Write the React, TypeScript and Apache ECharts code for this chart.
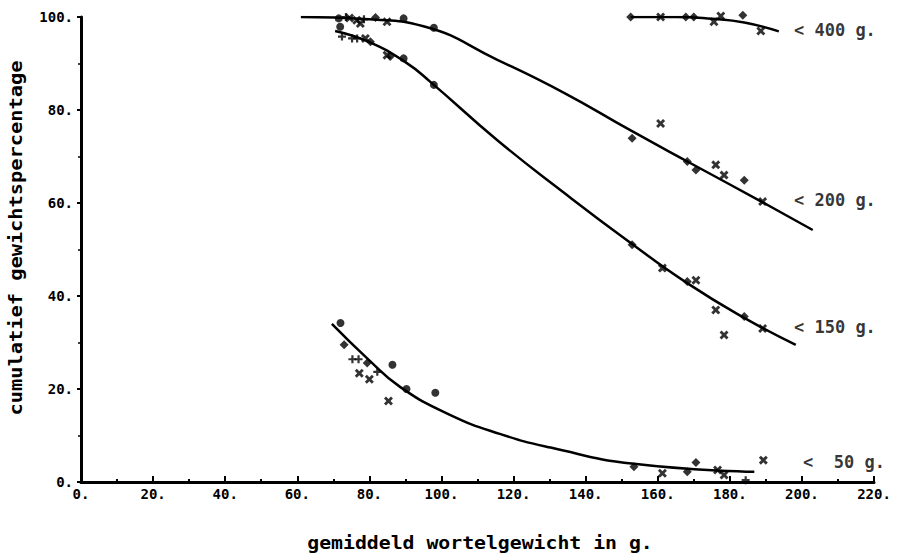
import React, { useEffect, useRef } from "react";
import * as echarts from "echarts";

// Fitted curves (x = gemiddeld wortelgewicht g, y = cumulatief %)
const curve400: number[][] = [[152.5, 100], [165, 100], [175, 99.6], [184, 98.8], [193.6, 96.9]];
const curve200: number[][] = [
  [61, 100], [80, 99.5], [95, 98], [115.5, 90.8], [134, 83.7], [152.5, 75.6], [169, 68.6],
  [189, 60.2], [203, 54.2],
];
const curve150: number[][] = [
  [70.5, 97], [80, 94.6], [90, 90.3], [97, 86], [115.5, 73.5], [134, 62.2], [152.5, 51.4],
  [168.5, 42.6], [184, 35.3], [198.3, 29.5],
];
const curve50: number[][] = [
  [69.6, 34], [79.4, 26.6], [88.6, 20.4], [102.5, 14.4], [116.4, 10.3], [130.3, 7.4],
  [153.4, 3.9], [186.8, 2.2],
];

// Observed points by marker shape
const circlePoints: number[][] = [
  [71.5, 99.7], [71.9, 97.9], [89.5, 99.7], [97.9, 97.7],
  [89.5, 91.1], [97.9, 85.4],
  [72, 34.2], [86.4, 25.2], [90.3, 20], [98.3, 19.2],
];
const diamondPoints: number[][] = [
  [152.5, 100], [167.8, 100], [170, 100], [183.6, 100.4],
  [81.7, 99.9], [152.9, 73.9], [168.2, 68.9], [170.6, 67.1], [184, 64.9],
  [80.3, 94.7], [85.8, 91.5], [152.9, 51], [168.2, 43.1], [184, 35.6],
  [73, 29.5], [79.4, 25.6], [153.4, 3.3], [168.2, 2.2], [170.6, 4.2],
];
const plusPoints: number[][] = [
  [73.5, 100], [78.5, 99.5],
  [72.4, 95.8], [75.2, 95.4], [76.6, 95.4],
  [75.3, 26.4], [77, 26.4], [82.2, 23.7], [184.4, 0.4],
];
const crossPoints: number[][] = [
  [160.8, 100], [175.6, 99], [177.5, 100.2], [188.6, 97],
  [74.5, 99.8], [76.5, 99.3], [77.5, 98.6], [84.9, 99], [160.8, 77.1], [176.1, 68.2], [178.4, 66], [189.1, 60.3],
  [78.9, 95.4], [84.9, 91.8], [161.3, 46], [170.6, 43.4], [176.1, 37], [178.4, 31.6], [189.1, 33],
  [77.2, 23.4], [80, 22.1], [85.3, 17.4], [161.3, 1.9], [176.6, 2.6], [178.4, 1.5], [189.3, 4.7],
];

// Curve labels [x, y, text]
const curveLabels: (number | string)[][] = [
  [197.8, 97.2, "< 400 g."],
  [197.8, 60.6, "< 200 g."],
  [197.8, 33.3, "< 150 g."],
  [200.3, 4.3, "<  50 g."],
];

const xTitle = "gemiddeld wortelgewicht in g.";
const yTitle = "cumulatief gewichtspercentage";

const FONT = '"DejaVu Sans Mono", "Liberation Mono", monospace';
const PLUS = "path://M2.9,0H5.1V2.9H8V5.1H5.1V8H2.9V5.1H0V2.9H2.9Z";
const CROSS = "path://M0,1.8L1.8,0L4,2.2L6.2,0L8,1.8L5.8,4L8,6.2L6.2,8L4,5.8L1.8,8L0,6.2L2.2,4Z";

export default function App() {
  const ref = useRef<HTMLDivElement>(null);
  useEffect(() => {
    if (!ref.current) return;
    const chart = echarts.init(ref.current, undefined, { renderer: "svg" });
    const lineSeries = (data: number[][]) => ({
      type: "line",
      data,
      smooth: 0.5,
      showSymbol: false,
      symbol: "none",
      lineStyle: { color: "#000", width: 2.5 },
      z: 2,
    });
    const scatter = (data: number[][], symbol: string, size: number) => ({
      type: "scatter",
      data,
      symbol,
      symbolSize: size,
      clip: false,
      itemStyle: { color: "#000" },
      z: 3,
    });
    chart.setOption({
      animation: false,
      backgroundColor: "#fff",
      grid: { left: 81, right: 24, top: 17, bottom: 72, containLabel: false },
      xAxis: {
        type: "value",
        min: 0,
        max: 220,
        interval: 20,
        axisLine: { show: true, lineStyle: { color: "#000", width: 3 } },
        axisTick: { show: true, inside: true, length: 6, lineStyle: { color: "#000", width: 2 } },
        minorTick: { show: true, splitNumber: 2, length: 3, lineStyle: { color: "#000", width: 2 } },
        splitLine: { show: false },
        axisLabel: {
          formatter: (v: number) => v + ".",
          color: "#000",
          fontFamily: FONT,
          fontWeight: "bold",
          fontSize: 14,
          margin: 5,
        },
      },
      yAxis: {
        type: "value",
        min: 0,
        max: 100,
        interval: 20,
        axisLine: { show: true, lineStyle: { color: "#000", width: 3 } },
        axisTick: { show: true, inside: false, length: 4, lineStyle: { color: "#000", width: 2 } },
        minorTick: { show: true, splitNumber: 2, length: 3, lineStyle: { color: "#000", width: 1.5 } },
        splitLine: { show: false },
        axisLabel: {
          formatter: (v: number) => v + ".",
          color: "#000",
          fontFamily: FONT,
          fontWeight: "bold",
          fontSize: 14,
          margin: 8,
          verticalAlign: "middle",
        },
      },
      graphic: [
        {
          type: "text",
          x: 480,
          y: 542,
          scaleX: 1.1,
          style: {
            x: 0,
            y: 0,
            text: xTitle,
            font: `bold 18px ${FONT}`,
            fill: "#000",
            textAlign: "center",
            textVerticalAlign: "middle",
          },
        },
        {
          type: "text",
          x: 16,
          y: 238,
          rotation: Math.PI / 2,
          scaleX: 1.13,
          style: {
            x: 0,
            y: 0,
            text: yTitle,
            font: `bold 18px ${FONT}`,
            fill: "#000",
            textAlign: "center",
            textVerticalAlign: "middle",
          },
        },
      ],
      series: [
        lineSeries(curve400),
        lineSeries(curve200),
        lineSeries(curve150),
        lineSeries(curve50),
        scatter(circlePoints, "circle", 8),
        scatter(diamondPoints, "diamond", 9),
        scatter(plusPoints, PLUS, 8),
        scatter(crossPoints, CROSS, 9),
        {
          type: "scatter",
          data: curveLabels,
          symbolSize: 0,
          clip: false,
          label: {
            show: true,
            position: "right",
            distance: 0,
            formatter: (p: any) => p.value[2],
            color: "#000",
            fontFamily: FONT,
            fontWeight: "bold",
            fontSize: 17,
          },
          z: 4,
        },
      ],
    });
    return () => chart.dispose();
  }, []);
  return (
    <div
      ref={ref}
      style={{ position: "absolute", left: 0, top: 0, width: 898, height: 554, background: "#fff" }}
    />
  );
}
